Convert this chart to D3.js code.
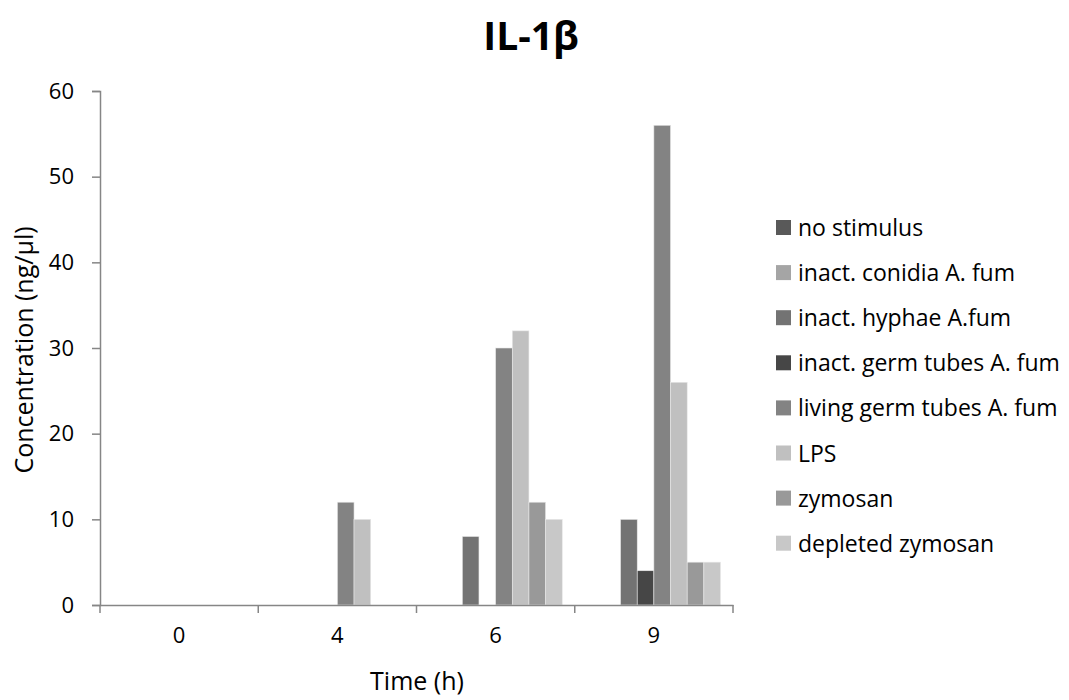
<!DOCTYPE html>
<html>
<head>
<meta charset="utf-8">
<script src="https://cdn.jsdelivr.net/npm/d3@7"></script>
<style>
  body { margin: 0; background: #fff; }
  svg text { font-family: "Open Sans", "Noto Sans", sans-serif; fill: #000; }
</style>
</head>
<body>
<div id="chart"></div>
<script>
const times = ["0", "4", "6", "9"];
const seriesNames = [
    "no stimulus",
    "inact. conidia A. fum",
    "inact. hyphae A.fum",
    "inact. germ tubes A. fum",
    "living germ tubes A. fum",
    "LPS",
    "zymosan",
    "depleted zymosan"
];
const seriesColors = ["#595959", "#a5a5a5", "#737373", "#464646", "#838383", "#c0c0c0", "#999999", "#c8c8c8"];
// values per series, one per time point
const noStimulus = [0, 0, 0, 0];
const inactConidia = [0, 0, 0, 0];
const inactHyphae = [0, 0, 8, 10];
const inactGermTubes = [0, 0, 0, 4];
const livingGermTubes = [0, 12, 30, 56];
const lps = [0, 10, 32, 26];
const zymosan = [0, 0, 12, 5];
const depletedZymosan = [0, 0, 10, 5];
const yTicks = [0, 10, 20, 30, 40, 50, 60];

const allSeries = [noStimulus, inactConidia, inactHyphae, inactGermTubes, livingGermTubes, lps, zymosan, depletedZymosan];

const W = 1069, H = 700;
const fontSize = "22px";
const svg = d3.select("#chart").append("svg")
    .attr("width", W)
    .attr("height", H);

const x0 = d3.scaleBand().domain(times).range([100, 733]).padding(0);
const x1 = d3.scaleBand().domain(d3.range(seriesNames.length))
    .range([0, x0.bandwidth()]).paddingInner(0).paddingOuter(0.75);
const y = d3.scaleLinear().domain([0, 60]).range([605, 91]);

const axisColor = "#868686";

// bars
times.forEach((t, ti) => {
    const g = svg.append("g").attr("transform", `translate(${x0(t)},0)`);
    g.selectAll("rect")
        .data(allSeries.map((s, si) => ({ si, v: s[ti] })).filter(d => d.v > 0))
        .enter().append("rect")
        .attr("x", d => x1(d.si))
        .attr("y", d => y(d.v))
        .attr("width", x1.bandwidth())
        .attr("height", d => y(0) - y(d.v))
        .attr("fill", d => seriesColors[d.si])
        .attr("stroke", "#e8e8e8")
        .attr("stroke-width", 0.6);
});

// y axis
const yAxis = svg.append("g")
    .attr("transform", "translate(100,0)")
    .call(d3.axisLeft(y).tickValues(yTicks).tickSize(8).tickPadding(18));
yAxis.select(".domain").attr("stroke", axisColor).attr("stroke-width", 1.5);
yAxis.selectAll(".tick line").attr("stroke", axisColor).attr("stroke-width", 1.5);
yAxis.selectAll(".tick text").style("font-size", fontSize);

// x axis
const xAxis = svg.append("g")
    .attr("transform", "translate(0,605)")
    .call(d3.axisBottom(x0).tickSize(0).tickPadding(22));
xAxis.select(".domain").attr("stroke", axisColor).attr("stroke-width", 1.5);
xAxis.selectAll(".tick text").style("font-size", fontSize);
// category boundary ticks
xAxis.selectAll(".sep")
    .data(times.map(t => x0(t)).concat([x0.range()[1]]))
    .enter().append("line")
    .attr("x1", d => d).attr("x2", d => d)
    .attr("y1", 0).attr("y2", 8)
    .attr("stroke", axisColor).attr("stroke-width", 1.5);

// titles
svg.append("text")
    .attr("x", 531).attr("y", 50)
    .attr("text-anchor", "middle")
    .style("font-size", "39px").style("font-weight", "bold")
    .text("IL-1β");

svg.append("text")
    .attr("x", 417).attr("y", 690)
    .attr("text-anchor", "middle")
    .style("font-size", "25px")
    .text("Time (h)");

svg.append("text")
    .attr("transform", "translate(33,350) rotate(-90)")
    .attr("text-anchor", "middle")
    .style("font-size", "25px")
    .text("Concentration (ng/µl)");

// legend
const legend = svg.append("g").attr("transform", "translate(776,227)");
const rows = legend.selectAll("g")
    .data(seriesNames)
    .enter().append("g")
    .attr("transform", (d, i) => `translate(0,${i * 45.1})`);
rows.append("rect")
    .attr("x", 0).attr("y", -7)
    .attr("width", 15).attr("height", 15)
    .attr("fill", (d, i) => seriesColors[i]);
rows.append("text")
    .attr("x", 22).attr("y", 1)
    .attr("dy", "0.35em")
    .style("font-size", "23px")
    .text(d => d);
</script>
</body>
</html>
